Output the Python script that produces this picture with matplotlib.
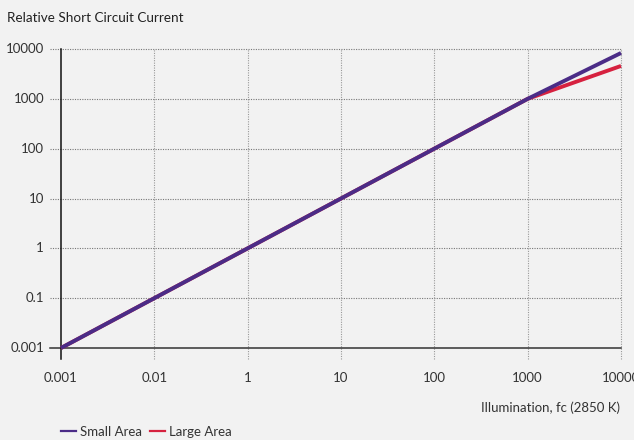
import numpy as np
import matplotlib

matplotlib.use("Agg")
import matplotlib.pyplot as plt
from matplotlib.lines import Line2D

plt.rcParams["font.family"] = ["Lato", "DejaVu Sans"]

# tick labels as printed on the chart (evenly spaced decades)
x_labels = ["0.001", "0.01", "1", "10", "100", "1000", "10000"]
y_labels = ["0.001", "0.1", "1", "10", "100", "1000", "10000"]

# curves in decade-position units (0 = first tick, 6 = last tick)
small_x = [0, 5, 6]
small_y = [0, 5, 5.92]
large_x = [0, 5, 6]
large_y = [0, 5, 5.66]

bg = "#f2f2f2"
purple = "#4b2c87"
red = "#d6213f"
text_col = "#333333"

W, H = 634, 440
fig = plt.figure(figsize=(W / 100, H / 100), dpi=100, facecolor=bg)

# axes box in pixels: left 50, right 621, top 49, bottom 359
ax = fig.add_axes([50 / W, (H - 359) / H, 571 / W, 310 / H], facecolor=bg)
dx = (621 - 61) / 6
dy = (348 - 49) / 6
x0 = -(61 - 50) / dx
y0 = -(359 - 348) / dy
ax.set_xlim(x0, 6)
ax.set_ylim(y0, 6)
for s in ax.spines.values():
    s.set_visible(False)
ax.set_xticks([])
ax.set_yticks([])

# dotted grid, running past the axes like tick marks
for i in range(1, 7):
    ax.plot([x0, 6], [i, i], color="#777777", lw=0.8, ls=(0, (1, 1.2)), clip_on=False, zorder=1)
    ax.plot([i, i], [y0, 6], color="#999999", lw=0.8, ls=(0, (1, 1.2)), clip_on=False, zorder=1)
ax.plot([x0, 6], [0, 0], color="#333333", lw=1.1, clip_on=False, zorder=2)
ax.plot([0, 0], [y0, 6], color="#111111", lw=1.1, clip_on=False, zorder=2)

ax.plot(large_x, large_y, color=red, lw=2.8, solid_capstyle="butt", clip_on=False, zorder=3)
ax.plot(small_x, small_y, color=purple, lw=2.8, solid_capstyle="butt", clip_on=False, zorder=4)

for i, lab in enumerate(y_labels):
    ax.text(x0 - 6 / dx, i, lab, ha="right", va="center", fontsize=9.5, color=text_col)
for i, lab in enumerate(x_labels):
    ax.text(i, y0 - 19 / dy, lab, ha="center", va="center", fontsize=9.5, color=text_col, clip_on=False)

fig.text(7 / W, 1 - 18 / H, "Relative Short Circuit Current", ha="left", va="center",
         fontsize=9.7, color="#222222")
fig.text(620 / W, 1 - 408 / H, "Illumination, fc (2850 K)", ha="right", va="center",
         fontsize=9.5, color=text_col)

handles = [Line2D([], [], color=purple, lw=1.6), Line2D([], [], color=red, lw=1.6)]
fig.legend(handles, ["Small Area", "Large Area"], loc="center left",
           bbox_to_anchor=(56 / W, 1 - 432 / H), ncol=2, frameon=False,
           handlelength=1.1, handletextpad=0.35, columnspacing=0.6,
           fontsize=9.5, labelcolor=text_col, borderaxespad=0)

fig.savefig("out.png", dpi=100, facecolor=bg)
